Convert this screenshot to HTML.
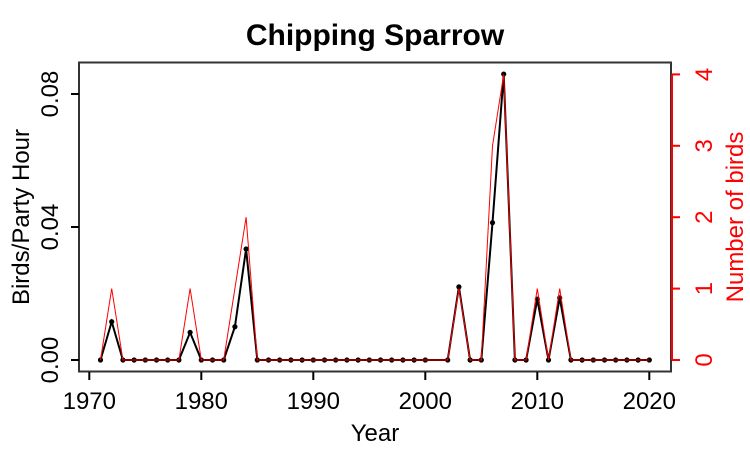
<!DOCTYPE html>
<html><head><meta charset="utf-8"><style>
body{margin:0;background:#fff}
svg{display:block;font-family:"Liberation Sans",Arial,sans-serif}
</style></head><body>
<svg id="c" width="750" height="450" xmlns="http://www.w3.org/2000/svg">
<text x="375" y="45" text-anchor="middle" font-size="30" font-weight="bold">Chipping Sparrow</text>
<rect x="79" y="62.5" width="592" height="309" fill="none" stroke="#333" stroke-width="2"/>
<g id="xaxis"></g>
<g id="yaxis"></g>
<g id="raxis"></g>
<text x="375" y="441" text-anchor="middle" font-size="24">Year</text>
<text transform="translate(29,217) rotate(-90)" text-anchor="middle" font-size="24">Birds/Party Hour</text>
<text transform="translate(743,217) rotate(-90)" text-anchor="middle" font-size="24" fill="#f00">Number of birds</text>
<g id="series"></g>
</svg>
<script>
const years=[1971,1972,1973,1974,1975,1976,1977,1978,1979,1980,1981,1982,1983,1984,1985,1986,1987,1988,1989,1990,1991,1992,1993,1994,1995,1996,1997,1998,1999,2000,2002,2003,2004,2005,2006,2007,2008,2009,2010,2011,2012,2013,2014,2015,2016,2017,2018,2019,2020];
const rate=[0,0.0115,0,0,0,0,0,0,0.0083,0,0,0,0.010,0.0334,0,0,0,0,0,0,0,0,0,0,0,0,0,0,0,0,0,0.022,0,0,0.0413,0.086,0,0,0.0183,0,0.0187,0,0,0,0,0,0,0,0];
const counts=[0,1,0,0,0,0,0,0,1,0,0,0,1,2,0,0,0,0,0,0,0,0,0,0,0,0,0,0,0,0,0,1,0,0,3,4,0,0,1,0,1,0,0,0,0,0,0,0,0];
const xTicks=[1970,1980,1990,2000,2010,2020];
const yTicks=[0,0.04,0.08];
const yTickLabels=["0.00","0.04","0.08"];
const rTicks=[0,1,2,3,4];
const NS="http://www.w3.org/2000/svg";
const X=v=>89.3+(v-1970)*11.2;
const Y=v=>360-v*3325;
const R=v=>360-v*71.4;
function mk(t,a,p){const e=document.createElementNS(NS,t);for(const k in a)e.setAttribute(k,a[k]);p.appendChild(e);return e;}
const xa=document.getElementById('xaxis'),ya=document.getElementById('yaxis'),ra=document.getElementById('raxis'),s=document.getElementById('series');
xTicks.forEach(t=>{mk('line',{x1:X(t),x2:X(t),y1:372,y2:380,stroke:'#000','stroke-width':2},xa);
const tx=mk('text',{x:X(t),y:409,'text-anchor':'middle','font-size':24},xa);tx.textContent=t;

});
yTicks.forEach((t,i)=>{mk('line',{x1:71,x2:79,y1:Y(t),y2:Y(t),stroke:'#000','stroke-width':2},ya);
const tx=mk('text',{transform:`translate(58,${Y(t)}) rotate(-90)`,'text-anchor':'middle','font-size':24},ya);tx.textContent=yTickLabels[i];

});
mk('line',{x1:672,x2:672,y1:R(0),y2:R(4),stroke:'#f00','stroke-width':2},ra);
rTicks.forEach(t=>{mk('line',{x1:672,x2:680,y1:R(t),y2:R(t),stroke:'#f00','stroke-width':2},ra);
const tx=mk('text',{transform:`translate(712,${R(t)}) rotate(-90)`,'text-anchor':'middle','font-size':24,fill:'#f00'},ra);tx.textContent=t;

});
const bl=mk('polyline',{points:years.map((y,i)=>X(y)+','+Y(rate[i])).join(' '),fill:'none',stroke:'#000','stroke-width':2},s);


years.forEach((y,i)=>{const c=mk('circle',{cx:X(y),cy:Y(rate[i]),r:2.6,fill:'#000'},s);

});
const rl=mk('polyline',{points:years.map((y,i)=>X(y)+','+R(counts[i])).join(' '),fill:'none',stroke:'#f00','stroke-width':1},s);


</script>
</body></html>
